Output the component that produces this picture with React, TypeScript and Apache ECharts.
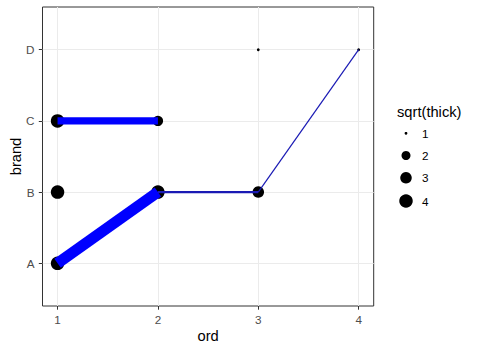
import React, { useEffect, useRef } from 'react';
import * as echarts from 'echarts';

// ---- data ----
const brands = ['A', 'B', 'C', 'D'];
const ordTicks = [1, 2, 3, 4];
const brandTicks = [1, 2, 3, 4];

// points (black), size = sqrt(thick)
const pointOrd = [1, 1, 1, 2, 2, 3, 3, 4];
const pointBrand = ['A', 'B', 'C', 'B', 'C', 'B', 'D', 'D'];
const pointSqrtThick = [4, 4, 4, 4, 2.5, 3, 1, 1];

// path segments (blue), line size in ggplot units
const segFromOrd = [1, 2, 3, 1];
const segFromBrand = ['A', 'B', 'B', 'C'];
const segToOrd = [2, 3, 4, 2];
const segToBrand = ['B', 'B', 'D', 'C'];
const segSize = [3.9, 0.75, 0.42, 2.6];

// legend
const legendTitle = 'sqrt(thick)';
const legendBreaks = [1, 2, 3, 4];

const FONT = '"Liberation Sans", Arial, Helvetica, sans-serif';
const PT = 2.845;

function brandIndex(b: string) {
  return brands.indexOf(b) + 1;
}
function pointDiameter(v: number) {
  return 2.8 + 10.7 * Math.sqrt((v - 1) / 3);
}

export default function App() {
  const ref = useRef<HTMLDivElement>(null);
  useEffect(() => {
    const chart = echarts.init(ref.current as HTMLDivElement, null, { renderer: 'svg' });
    const series: any[] = [];
    series.push({
      type: 'scatter',
      name: 'points',
      data: pointOrd.map((x, i) => [x, brandIndex(pointBrand[i]), pointSqrtThick[i]]),
      symbol: 'circle',
      symbolSize: (val: number[]) => pointDiameter(val[2]),
      itemStyle: { color: '#000000', opacity: 1 },
      silent: true,
      z: 2,
    });
    segFromOrd.forEach((x0, i) => {
      const w = segSize[i] * PT;
      series.push({
        type: 'line',
        name: 'seg' + i,
        data: [
          [x0, brandIndex(segFromBrand[i])],
          [segToOrd[i], brandIndex(segToBrand[i])],
        ],
        symbol: 'none',
        silent: true,
        z: 3,
        lineStyle: { width: w, color: w > 4 ? '#0000ff' : '#1a1ab4', cap: 'butt', opacity: 1 },
      });
    });
    legendBreaks.forEach((b) => {
      series.push({
        type: 'scatter',
        name: String(b),
        data: [],
        symbol: 'circle',
        itemStyle: { color: '#000000', opacity: 1 },
      });
    });
    const legendCx = 406;
    const legendTextX = 422;
    const legendY = [133.3, 155.5, 177.8, 201];
    const legends = legendBreaks.map((b, i) => {
      const d = pointDiameter(b);
      return {
        data: [String(b)],
        left: legendCx - d / 2,
        top: legendY[i] - 7,
        orient: 'vertical',
        itemWidth: d,
        itemHeight: d,
        padding: 0,
        selectedMode: false,
        icon: 'circle',
        itemStyle: { color: '#000000', opacity: 1, borderWidth: 0 },
        textStyle: {
          fontSize: 11.7,
          lineHeight: 14,
          color: '#000000',
          fontFamily: FONT,
          padding: [0, 0, 0, legendTextX - (legendCx + d / 2 + 5)],
        },
      };
    });

    chart.setOption({
      animation: false,
      backgroundColor: '#ffffff',
      grid: {
        left: 42.5,
        right: 103.3,
        top: 7,
        bottom: 44,
        containLabel: false,
        outerBoundsMode: 'none',
        show: true,
        borderColor: '#333333',
        borderWidth: 1,
        backgroundColor: 'transparent',
      },
      xAxis: {
        type: 'value',
        min: 0.85,
        max: 4.15,
        name: 'ord',
        nameLocation: 'middle',
        nameGap: 22,
        nameMoveOverlap: false,
        nameTextStyle: { fontSize: 14.7, color: '#000000', fontFamily: FONT },
        axisLine: { show: false },
        axisTick: { show: true, length: 3.7, customValues: ordTicks, lineStyle: { color: '#333333', width: 1 } },
        axisLabel: {
          customValues: ordTicks,
          margin: 7,
          color: '#4d4d4d',
          fontSize: 11.7,
          fontFamily: FONT,
        },
        splitLine: { show: true, lineStyle: { color: '#ebebeb', width: 1 } },
      },
      yAxis: {
        type: 'value',
        min: 0.4,
        max: 4.6,
        name: 'brand',
        nameLocation: 'middle',
        nameRotate: 90,
        nameGap: 19,
        nameMoveOverlap: false,
        nameTextStyle: { fontSize: 14.7, color: '#000000', fontFamily: FONT },
        axisLine: { show: false },
        axisTick: { show: true, length: 3.7, customValues: brandTicks, lineStyle: { color: '#333333', width: 1 } },
        axisLabel: {
          customValues: brandTicks,
          margin: 8,
          color: '#4d4d4d',
          fontSize: 11.7,
          fontFamily: FONT,
          formatter: (v: number) => brands[Math.round(v) - 1] ?? '',
        },
        splitLine: { show: true, lineStyle: { color: '#ebebeb', width: 1 } },
      },
      legend: legends,
      graphic: [
        {
          type: 'text',
          x: 397,
          y: 111.7,
          style: {
            text: legendTitle,
            fontSize: 14.7,
            fontFamily: FONT,
            fill: '#000000',
            verticalAlign: 'middle',
          },
        },
      ],
      series,
    });
    return () => chart.dispose();
  }, []);
  return (
    <div
      ref={ref}
      style={{ position: 'fixed', left: 0, top: 0, width: 477, height: 350, background: '#fff' }}
    />
  );
}
